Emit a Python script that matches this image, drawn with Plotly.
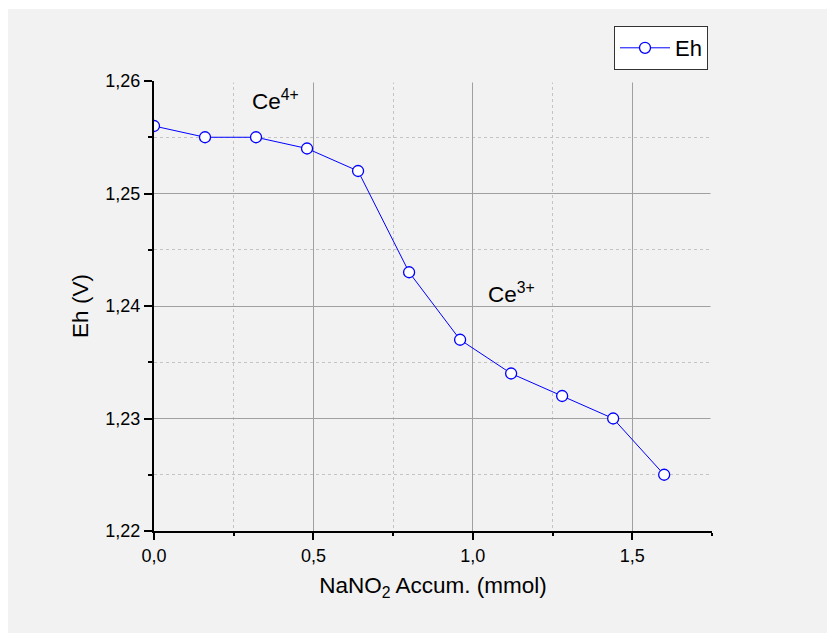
import plotly.graph_objects as go

# NaNO2 titration of Ce(IV): accumulated nitrite vs. measured potential
x_mmol = [0.00, 0.16, 0.32, 0.48, 0.64, 0.80, 0.96, 1.12, 1.28, 1.44, 1.60]
eh_v = [1.256, 1.255, 1.255, 1.254, 1.252, 1.243, 1.237, 1.234, 1.232, 1.230, 1.225]

x_range = [0, 1.75]
y_range = [1.22, 1.26]

FONT = "Liberation Sans, Arial, sans-serif"
BG = "#f2f2f2"

W, H = 827, 633
ML, MR, MT, MB = 154, 115, 81, 102
PW, PH = W - ML - MR, H - MT - MB

fig = go.Figure()
fig.add_trace(go.Scatter(
    x=x_mmol, y=eh_v, name="Eh", mode="lines+markers",
    line=dict(color="#0000ff", width=1),
    marker=dict(symbol="circle", size=11, color="white",
                line=dict(color="#0000ff", width=1.3)),
))

axis_common = dict(
    showline=True, linecolor="black", linewidth=2,
    ticks="outside", tickcolor="black", tickwidth=1.5,
    showgrid=True, gridcolor="#a0a0a0", gridwidth=1,
    zeroline=False, mirror=False,
    tickfont=dict(family=FONT, size=18, color="black"),
)

fig.update_xaxes(
    range=x_range, dtick=0.5, tick0=0, tickformat=".1f", ticklen=7,
    minor=dict(dtick=0.25, ticks="outside", ticklen=3, tickcolor="black",
               showgrid=True, gridcolor="#c4c4c4", griddash="dot", gridwidth=1),
    title=dict(text="NaNO<sub>2</sub> Accum. (mmol)", standoff=13,
               font=dict(family=FONT, size=22.5, color="black")),
    **axis_common,
)
fig.update_yaxes(
    range=y_range, dtick=0.01, tick0=1.22, tickformat=".2f", ticklen=8,
    minor=dict(dtick=0.005, ticks="outside", ticklen=4, tickcolor="black",
               showgrid=True, gridcolor="#c4c4c4", griddash="dot", gridwidth=1),
    title=dict(text="Eh (V)", standoff=10,
               font=dict(family=FONT, size=22.5, color="black")),
    **axis_common,
)

# ion labels
fig.add_annotation(x=0.38, y=1.2583, text="Ce<sup>4+</sup>", showarrow=False,
                   font=dict(family=FONT, size=22.5, color="black"))
fig.add_annotation(x=1.12, y=1.2412, text="Ce<sup>3+</sup>", showarrow=False,
                   font=dict(family=FONT, size=22.5, color="black"))

# no grid line along the open top and right edges of the frame
fig.add_shape(type="rect", xref="paper", yref="paper", layer="above",
              x0=0.006, x1=1.0 + 2 / PW, y0=1 - 1.5 / PH, y1=1 + 2 / PH,
              fillcolor=BG, line=dict(width=0))
fig.add_shape(type="rect", xref="paper", yref="paper", layer="above",
              x0=1 - 1.5 / PW, x1=1 + 2 / PW, y0=0.006, y1=1.0 + 2 / PH,
              fillcolor=BG, line=dict(width=0))

# thin white border along the top and left edges of the page
fig.add_shape(type="rect", xref="paper", yref="paper", layer="below",
              x0=-ML / PW - 0.05, x1=(8 - ML) / PW, y0=-0.5, y1=1.5,
              fillcolor="white", line=dict(width=0))
fig.add_shape(type="rect", xref="paper", yref="paper", layer="below",
              x0=-0.5, x1=1.5, y0=(PH + MT - 9) / PH, y1=(PH + MT) / PH + 0.05,
              fillcolor="white", line=dict(width=0))

fig.update_layout(
    width=W, height=H,
    margin=dict(l=ML, r=MR, t=MT, b=MB, autoexpand=False),
    paper_bgcolor=BG, plot_bgcolor=BG,
    separators=",.",
    font=dict(family=FONT, color="black"),
    showlegend=True,
    legend=dict(x=(708 - ML) / PW, xanchor="right",
                y=(PH + MT - 26) / PH, yanchor="top",
                bgcolor="white", bordercolor="#333333", borderwidth=1,
                font=dict(family=FONT, size=22, color="black"),
                itemwidth=50),
)

fig.write_html("out.html")
